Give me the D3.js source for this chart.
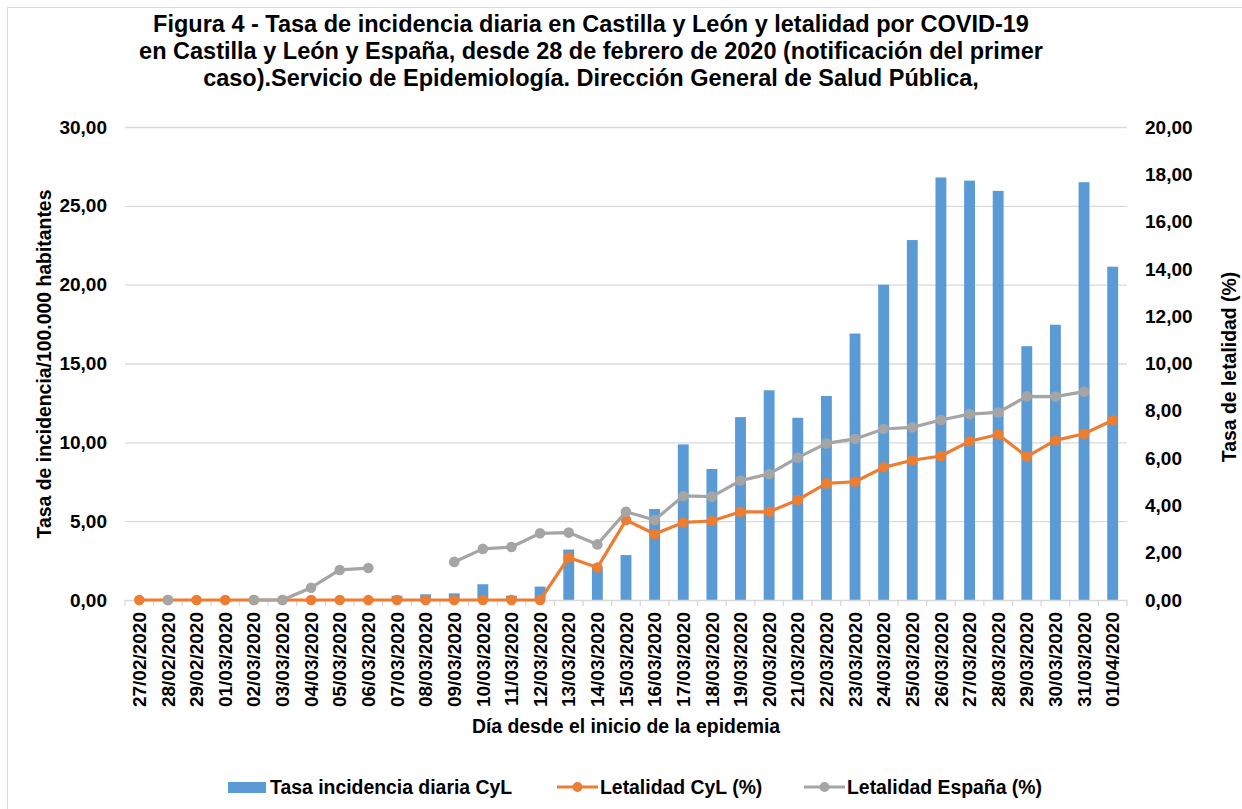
<!DOCTYPE html>
<html>
<head>
<meta charset="utf-8">
<title>Figura 4</title>
<script src="https://d3js.org/d3.v7.min.js"></script>
<style>
body { margin: 0; background: #fff; font-family: 'Liberation Sans', Arial, sans-serif; }
text { font-family: 'Liberation Sans', Arial, sans-serif; font-weight: bold; fill: #000; }
</style>
</head>
<body>
<svg id="svg" width="1242" height="809"></svg>
<script>
//data
var dates = ["27/02/2020","28/02/2020","29/02/2020","01/03/2020","02/03/2020","03/03/2020","04/03/2020",
    "05/03/2020","06/03/2020","07/03/2020","08/03/2020","09/03/2020","10/03/2020","11/03/2020","12/03/2020",
    "13/03/2020","14/03/2020","15/03/2020","16/03/2020","17/03/2020","18/03/2020","19/03/2020","20/03/2020",
    "21/03/2020","22/03/2020","23/03/2020","24/03/2020","25/03/2020","26/03/2020","27/03/2020","28/03/2020",
    "29/03/2020","30/03/2020","31/03/2020","01/04/2020"];
var incidencia = [0,0,0,0,0,0,0,0,0,0.27,0.36,0.42,1.0,0.27,0.85,3.2,2.1,2.85,5.77,9.87,8.31,11.6,13.3,
    11.56,12.94,16.9,20.0,22.83,26.8,26.6,25.95,16.1,17.46,26.5,21.14];
var letalidadCyL = [0,0,0,0,0,0,0,0,0,0,0,0,0,0,0,1.8,1.37,3.38,2.79,3.28,3.34,3.73,3.73,4.23,4.93,5.0,
    5.61,5.91,6.09,6.71,7.0,6.06,6.75,7.03,7.6];
var letalidadEsp = [null,0,null,null,0,0,0.52,1.27,1.35,null,null,1.61,2.16,2.24,2.82,2.85,2.35,3.73,3.38,
    4.4,4.37,5.05,5.33,6.02,6.62,6.81,7.23,7.3,7.61,7.86,7.93,8.61,8.6,8.81,null];
var leftTicks = [0,5,10,15,20,25,30];
var rightTicks = [0,2,4,6,8,10,12,14,16,18,20];
var titleLines = ["Figura 4 - Tasa de incidencia diaria en Castilla y León y letalidad por COVID-19",
    "en Castilla y León y España, desde 28 de febrero de 2020 (notificación del primer",
    "caso).Servicio de Epidemiología. Dirección General de Salud Pública,"];

var blue = "#5b9bd5", orange = "#ed7d31", grey = "#a5a5a5";
var fmt = function(v) { return d3.format(".2f")(v).replace(".", ","); };

var svg = d3.select("#svg");
var plotLeft = 125, plotRight = 1127, plotTop = 127, plotBottom = 600;

//chart border
svg.append("rect")
    .attr("x", 7.5).attr("y", 7.5)
    .attr("width", 1400).attr("height", 1000)
    .attr("fill", "none").attr("stroke", "#d9d9d9");

//scales
var x = d3.scaleBand().domain(dates).range([plotLeft, plotRight]).paddingInner(0.62).paddingOuter(0.31);
var xc = function(d) { return x(d) + x.bandwidth() / 2; };
var yL = d3.scaleLinear().domain([0, 30]).range([plotBottom, plotTop]);
var yR = d3.scaleLinear().domain([0, 20]).range([plotBottom, plotTop]);

//grid
svg.append("g").selectAll("line").data(leftTicks.slice(1)).join("line")
    .attr("x1", plotLeft).attr("x2", plotRight)
    .attr("y1", d => yL(d) + 0.5).attr("y2", d => yL(d) + 0.5)
    .attr("stroke", "#d9d9d9").attr("stroke-width", 1.3);

//left axis labels
svg.append("g").selectAll("text").data(leftTicks).join("text")
    .attr("x", 107).attr("y", d => yL(d)).attr("dy", "0.35em")
    .attr("text-anchor", "end").attr("font-size", "19px")
    .text(fmt);

//right axis labels
svg.append("g").selectAll("text").data(rightTicks).join("text")
    .attr("x", 1145).attr("y", d => yR(d)).attr("dy", "0.35em")
    .attr("text-anchor", "start").attr("font-size", "19px")
    .text(fmt);

//bars
svg.append("g").selectAll("rect").data(incidencia).join("rect")
    .attr("x", (d, i) => x(dates[i]))
    .attr("width", x.bandwidth())
    .attr("y", d => yL(d))
    .attr("height", d => plotBottom - yL(d))
    .attr("fill", blue);

//x axis line and ticks
svg.append("line")
    .attr("x1", plotLeft).attr("x2", plotRight).attr("y1", plotBottom + 0.5).attr("y2", plotBottom + 0.5)
    .attr("stroke", "#d9d9d9").attr("stroke-width", 1.5);
var step = x.step();
svg.append("g").selectAll("line").data(d3.range(dates.length + 1)).join("line")
    .attr("x1", d => plotLeft + d * step).attr("x2", d => plotLeft + d * step)
    .attr("y1", plotBottom).attr("y2", plotBottom + 6)
    .attr("stroke", "#d9d9d9").attr("stroke-width", 1.3);

//date labels
svg.append("g").selectAll("text").data(dates).join("text")
    .attr("transform", d => "translate(" + xc(d) + "," + (plotBottom + 12) + ") rotate(-90)")
    .attr("dy", "0.35em").attr("text-anchor", "end").attr("font-size", "19px")
    .text(d => d);

//lines
function drawSeries(values, color) {
    var pts = values.map((v, i) => ({ d: dates[i], v: v }));
    var line = d3.line().defined(p => p.v !== null).x(p => xc(p.d)).y(p => yR(p.v));
    svg.append("path").datum(pts)
        .attr("d", line).attr("fill", "none")
        .attr("stroke", color).attr("stroke-width", 3.2).attr("stroke-linejoin", "round");
    svg.append("g").selectAll("circle").data(pts.filter(p => p.v !== null)).join("circle")
        .attr("cx", p => xc(p.d)).attr("cy", p => yR(p.v))
        .attr("r", 5.3).attr("fill", color);
}
drawSeries(letalidadCyL, orange);
drawSeries(letalidadEsp, grey);

//titles
svg.append("g").selectAll("text").data(titleLines).join("text")
    .attr("x", 591).attr("y", (d, i) => 32 + i * 27)
    .attr("text-anchor", "middle").attr("font-size", "23.5px")
    .text(d => d);

svg.append("text")
    .attr("transform", "translate(51,364) rotate(-90)")
    .attr("text-anchor", "middle").attr("font-size", "19.4px")
    .text("Tasa de incidencia/100.000 habitantes");

svg.append("text")
    .attr("transform", "translate(1236,367) rotate(-90)")
    .attr("text-anchor", "middle").attr("font-size", "19.4px")
    .text("Tasa de letalidad (%)");

svg.append("text")
    .attr("x", 626).attr("y", 733)
    .attr("text-anchor", "middle").attr("font-size", "19.4px")
    .text("Día desde el inicio de la epidemia");

//legend
var legend = svg.append("g").attr("transform", "translate(0,787)");
legend.append("rect").attr("x", 228).attr("y", -5).attr("width", 38).attr("height", 11).attr("fill", blue);
legend.append("text").attr("x", 270).attr("dy", "0.35em").attr("font-size", "19.4px").text("Tasa incidencia diaria CyL");
[[557, orange, "Letalidad CyL (%)"], [804, grey, "Letalidad España (%)"]].forEach(function(l) {
    legend.append("line").attr("x1", l[0]).attr("x2", l[0] + 41).attr("stroke", l[1]).attr("stroke-width", 3.2);
    legend.append("circle").attr("cx", l[0] + 20.5).attr("r", 5).attr("fill", l[1]);
    legend.append("text").attr("x", l[0] + 43).attr("dy", "0.35em").attr("font-size", "19.4px").text(l[2]);
});
</script>
</body>
</html>
